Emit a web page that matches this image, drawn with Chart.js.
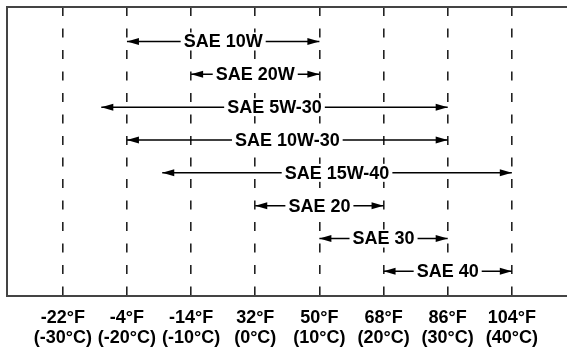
<!DOCTYPE html>
<html>
<head>
<meta charset="utf-8">
<script src="https://cdn.jsdelivr.net/npm/chart.js@4/dist/chart.umd.min.js"></script>
<style>
  html, body { margin: 0; padding: 0; background: #fff; }
  #wrap { width: 567px; height: 349px; position: relative; }
</style>
</head>
<body>
<div id="wrap"><canvas id="oilChart"></canvas></div>
<script>
const grades = ["SAE 10W", "SAE 20W", "SAE 5W-30", "SAE 10W-30", "SAE 15W-40", "SAE 20", "SAE 30", "SAE 40"];
// range ends, in temperature-column units (0 = first column)
const rangeStart = [1, 2, 0.6, 1, 1.55, 3, 4, 5];
const rangeEnd = [4, 4, 6, 6, 7, 5, 6, 7];
const tempF = ["-22°F", "-4°F", "-14°F", "32°F", "50°F", "68°F", "86°F", "104°F"];
const tempC = ["(-30°C)", "(-20°C)", "(-10°C)", "(0°C)", "(10°C)", "(20°C)", "(30°C)", "(40°C)"];

const FONT = "'Liberation Sans', Arial, sans-serif";

const arrowPlugin = {
  id: "arrows",
  afterDatasetsDraw(chart) {
    const { ctx, scales: { x, y } } = chart;
    ctx.save();
    grades.forEach((name, i) => {
      const x1 = x.getPixelForValue(rangeStart[i]);
      const x2 = x.getPixelForValue(rangeEnd[i]);
      const py = y.getPixelForValue(i);
      ctx.fillStyle = "#000";
      [[x1, 1], [x2, -1]].forEach(([tip, dir]) => {
        ctx.beginPath();
        ctx.moveTo(tip, py);
        ctx.lineTo(tip + dir * 12, py - 3.5);
        ctx.lineTo(tip + dir * 12, py + 3.5);
        ctx.closePath();
        ctx.fill();
      });
      ctx.font = "bold 18px " + FONT;
      const w = ctx.measureText(name).width;
      const mid = (x1 + x2) / 2;
      ctx.fillStyle = "#fff";
      ctx.fillRect(mid - w / 2 - 3, py - 9, w + 6, 18);
      ctx.fillStyle = "#000";
      ctx.textAlign = "center";
      ctx.textBaseline = "middle";
      ctx.fillText(name, mid, py + 1);
    });
    // top frame line
    ctx.strokeStyle = "#444";
    ctx.lineWidth = 2;
    ctx.beginPath();
    ctx.moveTo(chart.chartArea.left, chart.chartArea.top);
    ctx.lineTo(chart.width, chart.chartArea.top);
    ctx.stroke();
    ctx.restore();
  },
};

function initChart() {
  const ctx = document.getElementById("oilChart").getContext("2d");

  new Chart(ctx, {
    type: "scatter",
    data: {
      datasets: grades.map((name, i) => ({
        label: name,
        data: [
          { x: rangeStart[i], y: i },
          { x: rangeEnd[i], y: i },
        ],
        showLine: true,
        borderColor: "#000",
        borderWidth: 1.5,
        pointRadius: 0,
      })),
    },
    options: {
      responsive: true,
      maintainAspectRatio: false,
      animation: false,
      layout: { padding: { top: 7, left: 7, right: 0, bottom: 0 } },
      scales: {
        x: {
          type: "linear",
          min: -0.87,
          max: 7.86,
          afterBuildTicks(axis) {
            axis.ticks = tempF.map((_, i) => ({ value: i }));
          },
          afterFit(axis) {
            axis.height = 53;
          },
          grid: {
            color: "#222",
            lineWidth: 1.6,
            drawTicks: false,
          },
          border: {
            display: true,
            color: "#444",
            width: 2,
            dash: [9, 12.5],
          },
          ticks: {
            padding: 12,
            color: "#000",
            maxRotation: 0,
            autoSkip: false,
            font: { family: FONT, size: 18, weight: "bold", lineHeight: 1.12 },
            callback(value) {
              return [tempF[value], tempC[value]];
            },
          },
        },
        y: {
          type: "linear",
          reverse: true,
          min: -1.05,
          max: 7.75,
          afterFit(axis) {
            axis.width = 0;
          },
          grid: { display: false },
          border: { display: true, color: "#444", width: 2 },
          ticks: { display: false },
        },
      },
      plugins: {
        legend: { display: false },
        tooltip: { enabled: false },
      },
    },
    plugins: [arrowPlugin],
  });
}

document.addEventListener("DOMContentLoaded", initChart);
</script>
</body>
</html>
